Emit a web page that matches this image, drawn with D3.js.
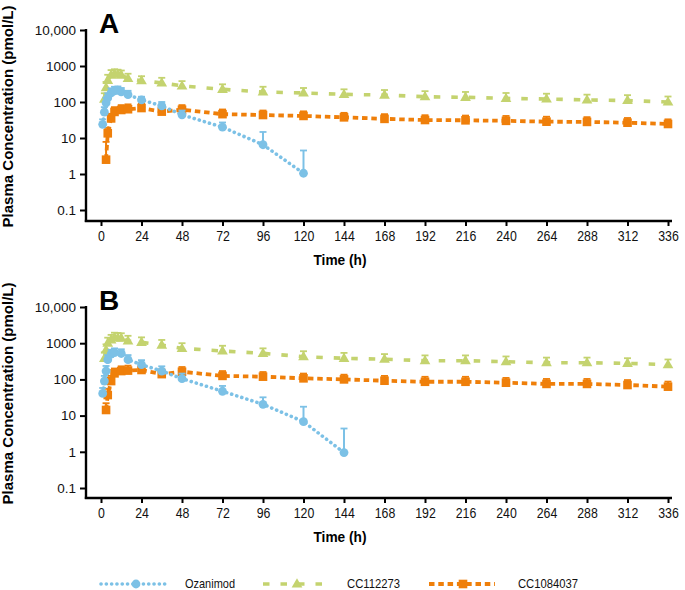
<!DOCTYPE html>
<html>
<head>
<meta charset="utf-8">
<script src="https://cdn.jsdelivr.net/npm/d3@7"></script>
<style>
  body { margin: 0; background: #fff; }
  svg { display: block; }
</style>
</head>
<body>
<script>

// --- data ---

var x_ticks = [0, 24, 48, 72, 96, 120, 144, 168, 192, 216, 240, 264, 288, 312, 336];
var y_ticks = [0.1, 1, 10, 100, 1000, 10000];
var y_tick_labels = ["0.1", "1", "10", "100", "1000", "10,000"];
var series_names = ["Ozanimod", "CC112273", "CC1084037"];
var panel_letters = ["A", "B"];

// panel A
var a_oza_t   = [1, 2, 3, 4, 6, 8, 10, 12, 16, 24, 36, 48, 72, 96, 120];
var a_oza_v   = [24, 52, 95, 130, 178, 205, 212, 190, 160, 114, 78, 44, 20, 6.5, 1.05];
var a_oza_up  = [33, 72, 130, 175, 240, 265, 270, 245, 205, 140, 100, 58, 27, 14.7, 4.5];

var a_cc1_t   = [2, 3, 4, 6, 8, 10, 12, 16, 24, 36, 48, 72, 96, 120, 144, 168, 192, 216, 240, 264, 288, 312, 336];
var a_cc1_v   = [120, 250, 400, 560, 600, 590, 560, 450, 390, 340, 280, 225, 190, 178, 163, 156, 140, 135, 126, 121, 114, 110, 100];
var a_cc1_up  = [175, 360, 570, 770, 810, 790, 750, 610, 520, 470, 380, 310, 265, 245, 225, 215, 200, 190, 178, 170, 160, 155, 142];

var a_cc2_t   = [3, 4, 6, 8, 12, 16, 24, 36, 48, 72, 96, 120, 144, 168, 192, 216, 240, 264, 288, 312, 336];
var a_cc2_v   = [2.5, 13.5, 35, 53, 60, 63, 68, 54, 61, 46, 43.5, 41, 37.5, 34, 31.6, 31, 30, 28.4, 28, 26.6, 24.5];
var a_cc2_up  = [7.8, 19, 47, 72, 82, 86, 90, 72, 82, 62, 58, 55, 50, 46, 43, 42, 41, 39, 38, 36, 33];

// panel B
var b_oza_t   = [1, 2, 3, 4, 6, 8, 12, 16, 24, 36, 48, 72, 96, 120, 144];
var b_oza_v   = [41, 90, 170, 350, 500, 550, 520, 350, 255, 170, 105, 47, 20.5, 6.8, 0.95];
var b_oza_up  = [58, 125, 235, 470, 660, 720, 680, 470, 340, 230, 145, 66, 32, 17.6, 4.4];

var b_cc1_t   = [2, 3, 4, 6, 8, 10, 12, 16, 24, 36, 48, 72, 96, 120, 144, 168, 192, 216, 240, 264, 288, 312, 336];
var b_cc1_v   = [380, 650, 1000, 1230, 1420, 1400, 1370, 1150, 1060, 890, 720, 610, 526, 424, 383, 360, 329, 329, 308, 289, 289, 278, 255];
var b_cc1_up  = [560, 930, 1420, 1700, 1950, 1920, 1880, 1600, 1450, 1230, 1000, 850, 720, 600, 540, 500, 460, 460, 430, 400, 400, 385, 355];

var b_cc2_t   = [3, 4, 6, 8, 12, 16, 24, 36, 48, 72, 96, 120, 144, 168, 192, 216, 240, 264, 288, 312, 336];
var b_cc2_v   = [14.3, 37, 90, 147, 170, 175, 182, 140, 163, 125, 119, 107, 100, 92, 86, 86, 81, 75, 75, 70, 63];
var b_cc2_up  = [22, 55, 125, 200, 230, 240, 245, 190, 220, 170, 160, 145, 135, 125, 118, 118, 110, 103, 103, 96, 87];

// --- drawing parameters ---

var par = {
  w: 685, h: 590,
  x0: 101, x1: 668,          // pixel span of 0..336 h
  axis_left: 86, axis_right: 672,
  col_oza: "#7cc1e6",
  col_cc1: "#c4d36f",
  col_cc2: "#ef7f0a",
  font: "'Liberation Sans', Arial, Helvetica, sans-serif"
};

// panel y spans: 10,000 top .. 0.1 bottom, plus x-axis line position
var panels = [
  { letter: panel_letters[0], ytop: 30, ybot: 210, xaxis: 221,
    oza: [a_oza_t, a_oza_v, a_oza_up], cc1: [a_cc1_t, a_cc1_v, a_cc1_up], cc2: [a_cc2_t, a_cc2_v, a_cc2_up] },
  { letter: panel_letters[1], ytop: 307, ybot: 488, xaxis: 498,
    oza: [b_oza_t, b_oza_v, b_oza_up], cc1: [b_cc1_t, b_cc1_v, b_cc1_up], cc2: [b_cc2_t, b_cc2_v, b_cc2_up] }
];

var svg = d3.select("body")
            .append("svg")
            .attr("width", par.w)
            .attr("height", par.h);

var x = d3.scaleLinear().domain([0, 336]).range([par.x0, par.x1]);

var line_style = {
  oza: { color: par.col_oza, dash: "0.1 5.2", cap: "round", width: 3.6 },
  cc1: { color: par.col_cc1, dash: "6.5 11", cap: "butt", width: 3.6 },
  cc2: { color: par.col_cc2, dash: "5.5 3.8", cap: "butt", width: 3.8 }
};

// squeeze text horizontally, the original uses a condensed face
var condense = function(sel, k){
  sel.each(function(){
    var len = this.getComputedTextLength();
    d3.select(this).attr("textLength", len * k).attr("lengthAdjust", "spacingAndGlyphs");
  });
}

var place_marker = function(g, kind, cx, cy, color){
  if (kind == "oza"){
    g.append("circle").attr("cx", cx).attr("cy", cy).attr("r", 4.4).attr("fill", color);
  } else if (kind == "cc1"){
    g.append("path")
      .attr("d", d3.symbol().type(d3.symbolTriangle).size(50)())
      .attr("transform", "translate(" + cx + "," + (cy + 0.5) + ")")
      .attr("fill", color);
  } else {
    g.append("rect").attr("x", cx - 4.3).attr("y", cy - 4.3)
      .attr("width", 8.6).attr("height", 8.6).attr("fill", color);
  }
}

var draw_series = function(g, kind, d, y){
  var st = line_style[kind];
  var pts = d[0].map(function(t, i){ return { t: t, v: d[1][i], up: d[2][i] }; });

  var line = d3.line().x(function(p){ return x(p.t); }).y(function(p){ return y(p.v); });
  g.append("path")
    .datum(pts)
    .attr("d", line)
    .attr("fill", "none")
    .attr("stroke", st.color)
    .attr("stroke-width", st.width)
    .attr("stroke-dasharray", st.dash)
    .attr("stroke-linecap", st.cap);

  // upper error bars with caps
  pts.forEach(function(p){
    g.append("line")
      .attr("x1", x(p.t)).attr("x2", x(p.t))
      .attr("y1", y(p.v)).attr("y2", y(p.up))
      .attr("stroke", st.color).attr("stroke-width", 2);
    g.append("line")
      .attr("x1", x(p.t) - 3.5).attr("x2", x(p.t) + 3.5)
      .attr("y1", y(p.up)).attr("y2", y(p.up))
      .attr("stroke", st.color).attr("stroke-width", 1.8);
  });

  pts.forEach(function(p){
    place_marker(g, kind, x(p.t), y(p.v), st.color);
  });
}

panels.forEach(function(pn){
  var y = d3.scaleLog().domain([0.1, 10000]).range([pn.ybot, pn.ytop]);
  var g = svg.append("g");

  // y axis
  var yax = g.append("g")
    .attr("transform", "translate(" + par.axis_left + ",0)")
    .call(d3.axisLeft(y).tickValues(y_ticks).tickSize(6).tickPadding(4)
            .tickFormat(function(d, i){ return y_tick_labels[i]; }));
  yax.select(".domain").remove();
  yax.selectAll(".tick line").attr("stroke", "#000").attr("stroke-width", 2);
  yax.selectAll(".tick text").attr("font-family", par.font).attr("font-size", 13.5).attr("fill", "#111");

  g.append("line")
    .attr("x1", par.axis_left).attr("x2", par.axis_left)
    .attr("y1", pn.ytop - 1).attr("y2", pn.xaxis + 1)
    .attr("stroke", "#000").attr("stroke-width", 2.4);

  // x axis
  var xax = g.append("g")
    .attr("transform", "translate(0," + pn.xaxis + ")")
    .call(d3.axisBottom(x).tickValues(x_ticks).tickSize(5).tickPadding(5));
  xax.select(".domain").remove();
  xax.selectAll(".tick line").attr("stroke", "#000").attr("stroke-width", 2);
  xax.selectAll(".tick text").attr("font-family", par.font).attr("font-size", 14).attr("fill", "#111")
     .call(condense, 0.88);

  g.append("line")
    .attr("x1", par.axis_left - 1.2).attr("x2", par.axis_right)
    .attr("y1", pn.xaxis).attr("y2", pn.xaxis)
    .attr("stroke", "#000").attr("stroke-width", 2.4);

  // axis titles
  g.append("text")
    .attr("x", 340).attr("y", pn.xaxis + 44)
    .attr("text-anchor", "middle")
    .attr("font-family", par.font).attr("font-weight", "bold").attr("font-size", 15)
    .attr("textLength", 53).attr("lengthAdjust", "spacingAndGlyphs")
    .text("Time (h)");

  g.append("text")
    .attr("transform", "translate(13," + ((pn.ytop + pn.xaxis) / 2 - 9) + ") rotate(-90)")
    .attr("text-anchor", "middle")
    .attr("font-family", par.font).attr("font-weight", "bold").attr("font-size", 15)
    .attr("textLength", 222).attr("lengthAdjust", "spacingAndGlyphs")
    .text("Plasma Concentration (pmol/L)");

  // panel letter
  g.append("text")
    .attr("x", 99).attr("y", pn.ytop + 3)
    .attr("font-family", par.font).attr("font-weight", "bold").attr("font-size", 28)
    .text(pn.letter);

  draw_series(g, "cc1", pn.cc1, y);
  draw_series(g, "cc2", pn.cc2, y);
  draw_series(g, "oza", pn.oza, y);
});

// legend along the bottom
var leg_y = 584;
var leg = [
  { kind: "oza", x1: 101, x2: 168, mx: 136, tx: 185, tw: 50 },
  { kind: "cc1", x1: 263, x2: 330, mx: 297, tx: 347, tw: 53 },
  { kind: "cc2", x1: 429, x2: 495, mx: 463, tx: 518, tw: 60 }
];
leg.forEach(function(l, i){
  var st = line_style[l.kind];
  var lg = svg.append("g");
  lg.append("line")
    .attr("x1", l.x1).attr("x2", l.x2).attr("y1", leg_y).attr("y2", leg_y)
    .attr("stroke", st.color).attr("stroke-width", st.width)
    .attr("stroke-dasharray", st.dash).attr("stroke-linecap", st.cap);
  place_marker(lg, l.kind, l.mx, leg_y, st.color);
  lg.append("text")
    .attr("x", l.tx).attr("y", 588)
    .attr("font-family", par.font).attr("font-size", 13.5).attr("fill", "#111")
    .attr("textLength", l.tw).attr("lengthAdjust", "spacingAndGlyphs")
    .text(series_names[i]);
});

</script>
</body>
</html>
